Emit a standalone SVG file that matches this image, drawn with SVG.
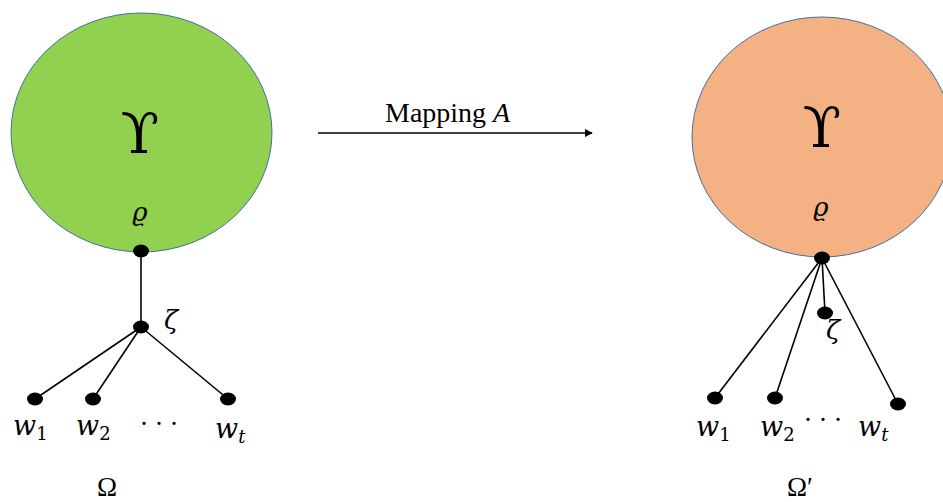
<svg xmlns="http://www.w3.org/2000/svg" width="943" height="502" viewBox="0 0 943 502">
  <style>
    .blob { stroke: #41719C; stroke-width: 1; }
    .edge { stroke: #000; stroke-width: 1.6; fill: none; }
    .dot { fill: #000; }
    .big { font-family: "DejaVu Serif", serif; font-size: 56px; }
    .sym { font-family: "DejaVu Serif", serif; font-style: italic; font-size: 26px; }
    .var { font-family: "DejaVu Serif", serif; font-style: italic; font-size: 27px; }
    .sub { font-family: "DejaVu Serif", serif; font-size: 18px; font-style: normal; }
    .subi { font-family: "DejaVu Serif", serif; font-size: 18px; font-style: italic; }
    .cap { font-family: "Liberation Serif", serif; font-size: 27px; }
    .lbl { font-family: "Liberation Serif", serif; font-size: 28px; }
  </style>
  <defs>
    <marker id="arrowhead" viewBox="0 0 10 10" refX="9" refY="5" markerWidth="5" markerHeight="5" orient="auto">
      <path d="M0,0 L10,5 L0,10 z" fill="#000"/>
    </marker>
  </defs>

  <!-- connectors -->
  <g id="connectors">
    <line class="edge" x1="141" y1="251" x2="141" y2="327"/>
    <line class="edge" x1="141" y1="327" x2="35" y2="399"/>
    <line class="edge" x1="141" y1="327" x2="93" y2="399"/>
    <line class="edge" x1="141" y1="327" x2="228" y2="399"/>
    <line class="edge" x1="822" y1="258" x2="715" y2="398"/>
    <line class="edge" x1="822" y1="258" x2="775" y2="398"/>
    <line class="edge" x1="822" y1="258" x2="825" y2="313"/>
    <line class="edge" x1="822" y1="258" x2="898" y2="404"/>
    <line class="edge" x1="318" y1="133" x2="592" y2="133" marker-end="url(#arrowhead)"/>
    <text class="lbl" x="385" y="122">Mapping <tspan font-style="italic">A</tspan></text>
  </g>

  <!-- left structure -->
  <g id="left-blob">
    <ellipse class="blob" cx="141.5" cy="132.5" rx="130.5" ry="119.5" fill="#92D050"/>
    <text class="big" x="140" y="153" text-anchor="middle">ϒ</text>
  </g>
  <g id="left-rho">
    <ellipse class="dot" cx="141" cy="251" rx="8" ry="6.5"/>
    <text class="sym" x="140" y="221" text-anchor="middle">ϱ</text>
  </g>
  <g id="left-zeta">
    <ellipse class="dot" cx="141" cy="327" rx="8" ry="6.5"/>
    <text class="sym" x="171" y="329" text-anchor="middle">ζ</text>
  </g>
  <g id="left-w1">
    <ellipse class="dot" cx="35" cy="399" rx="8" ry="6.5"/>
    <text class="var" x="13" y="435">w<tspan class="sub" dy="5">1</tspan></text>
  </g>
  <g id="left-w2">
    <ellipse class="dot" cx="93" cy="399" rx="8" ry="6.5"/>
    <text class="var" x="76" y="435">w<tspan class="sub" dy="5">2</tspan></text>
  </g>
  <g id="left-dots">
    <text class="cap" x="162" y="433" text-anchor="middle" letter-spacing="6">···</text>
  </g>
  <g id="left-wt">
    <ellipse class="dot" cx="228" cy="399" rx="8" ry="6.5"/>
    <text class="var" x="215" y="438">w<tspan class="subi" dy="5">t</tspan></text>
  </g>
  <g id="left-omega">
    <text class="cap" x="107" y="496" text-anchor="middle">Ω</text>
  </g>

  <!-- right structure -->
  <g id="right-blob">
    <ellipse class="blob" cx="822" cy="137" rx="130" ry="120" fill="#F4B183"/>
    <text class="big" x="822" y="147" text-anchor="middle">ϒ</text>
  </g>
  <g id="right-rho">
    <ellipse class="dot" cx="822" cy="258" rx="8" ry="6.5"/>
    <text class="sym" x="821" y="216" text-anchor="middle">ϱ</text>
  </g>
  <g id="right-zeta">
    <ellipse class="dot" cx="825" cy="313" rx="8" ry="6.5"/>
    <text class="sym" x="833" y="339" text-anchor="middle">ζ</text>
  </g>
  <g id="right-w1">
    <ellipse class="dot" cx="715" cy="398" rx="8" ry="6.5"/>
    <text class="var" x="696" y="436">w<tspan class="sub" dy="5">1</tspan></text>
  </g>
  <g id="right-w2">
    <ellipse class="dot" cx="775" cy="398" rx="8" ry="6.5"/>
    <text class="var" x="760" y="436">w<tspan class="sub" dy="5">2</tspan></text>
  </g>
  <g id="right-dots">
    <text class="cap" x="826" y="429" text-anchor="middle" letter-spacing="6">···</text>
  </g>
  <g id="right-wt">
    <ellipse class="dot" cx="898" cy="404" rx="8" ry="6.5"/>
    <text class="var" x="858" y="436">w<tspan class="subi" dy="5">t</tspan></text>
  </g>
  <g id="right-omega">
    <text class="cap" x="800" y="496" text-anchor="middle">Ω′</text>
  </g>
</svg>
